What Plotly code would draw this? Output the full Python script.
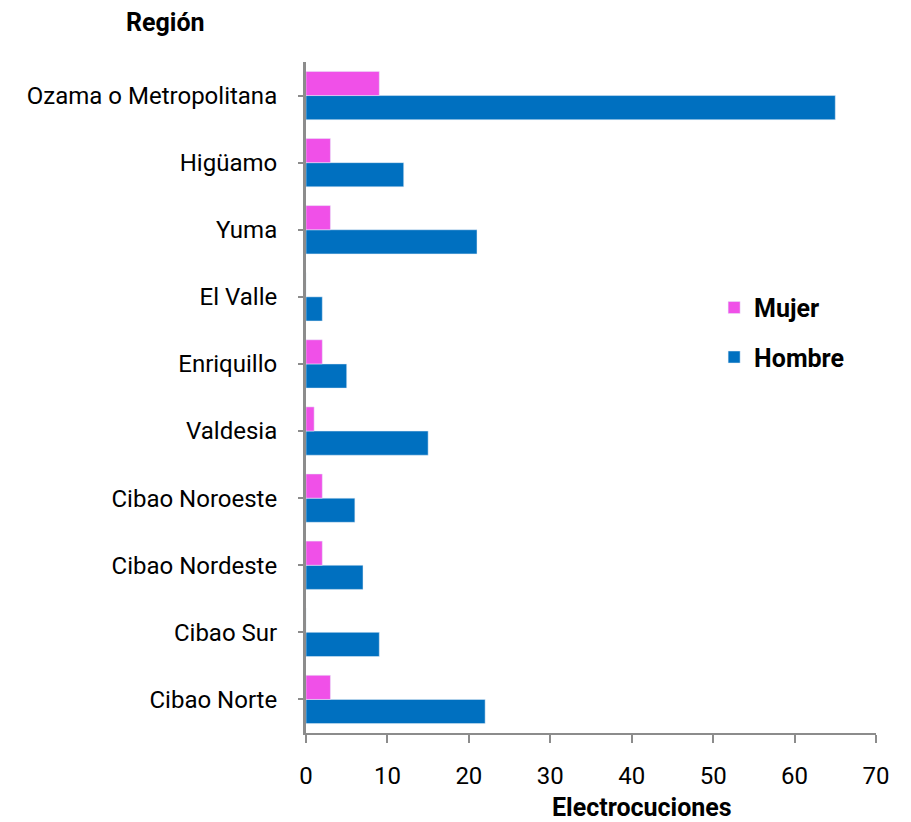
import plotly.graph_objects as go

regiones = ["Ozama o Metropolitana", "Higüamo", "Yuma", "El Valle", "Enriquillo",
            "Valdesia", "Cibao Noroeste", "Cibao Nordeste", "Cibao Sur", "Cibao Norte"]
mujer = [9, 3, 3, 0, 2, 1, 2, 2, 0, 3]
hombre = [65, 12, 21, 2, 5, 15, 6, 7, 9, 22]
x_ticks = [0, 10, 20, 30, 40, 50, 60, 70]

FONT = "Roboto"
AXIS = "#8c8c8c"
W, H = 895, 814
L, R, T, B = 298, 27, 54, 89

cats = regiones[::-1]
fig = go.Figure()
fig.add_trace(go.Bar(y=cats, x=hombre[::-1], orientation="h", name="Hombre",
                     marker=dict(color="#0070C0"), legendrank=2, legendgroup="h"))
fig.add_trace(go.Bar(y=cats, x=mujer[::-1], orientation="h", name="Mujer",
                     marker=dict(color="#F050E8"), legendrank=1, legendgroup="m"))

pw, ph = W - L - R, H - T - B


def px(x):
    return (x - 8 - L) / pw


def py(y):
    return (H - B - (y - 8)) / ph


fig.update_layout(
    width=W, height=H,
    margin=dict(l=L, r=R, t=T, b=B),
    paper_bgcolor="white", plot_bgcolor="white",
    barmode="group", bargap=0.28, bargroupgap=0,
    font=dict(family=FONT, size=24, color="black"),
    legend=dict(x=0.716, y=0.668, xanchor="left", yanchor="top",
                font=dict(family=FONT, size=25, color="black", weight="bold"),
                tracegroupgap=14, itemwidth=30, bgcolor="rgba(0,0,0,0)"),
    showlegend=True,
    xaxis=dict(range=[0, 70], tickvals=x_ticks, showgrid=False, zeroline=False,
               showline=True, linecolor=AXIS, linewidth=2,
               ticks="outside", ticklen=8, tickcolor=AXIS, tickwidth=2,
               ticklabelstandoff=12,
               tickfont=dict(family=FONT, size=24)),
    yaxis=dict(categoryorder="array", categoryarray=cats, showgrid=False,
               showline=True, linecolor=AXIS, linewidth=3,
               ticks="outside", ticklen=5, tickcolor=AXIS, tickwidth=2,
               ticklabelstandoff=16,
               tickfont=dict(family=FONT, size=24)),
    annotations=[
        dict(text="<b>Región</b>", x=px(165), y=py(22), xref="paper", yref="paper",
             xanchor="center", yanchor="middle", borderpad=0,
             showarrow=False, font=dict(family=FONT, size=25)),
        dict(text="<b>Electrocuciones</b>", x=px(642), y=py(807), xref="paper", yref="paper",
             xanchor="center", yanchor="middle", borderpad=0,
             showarrow=False, font=dict(family=FONT, size=25)),
    ],
)

fig.write_html("out.html")
